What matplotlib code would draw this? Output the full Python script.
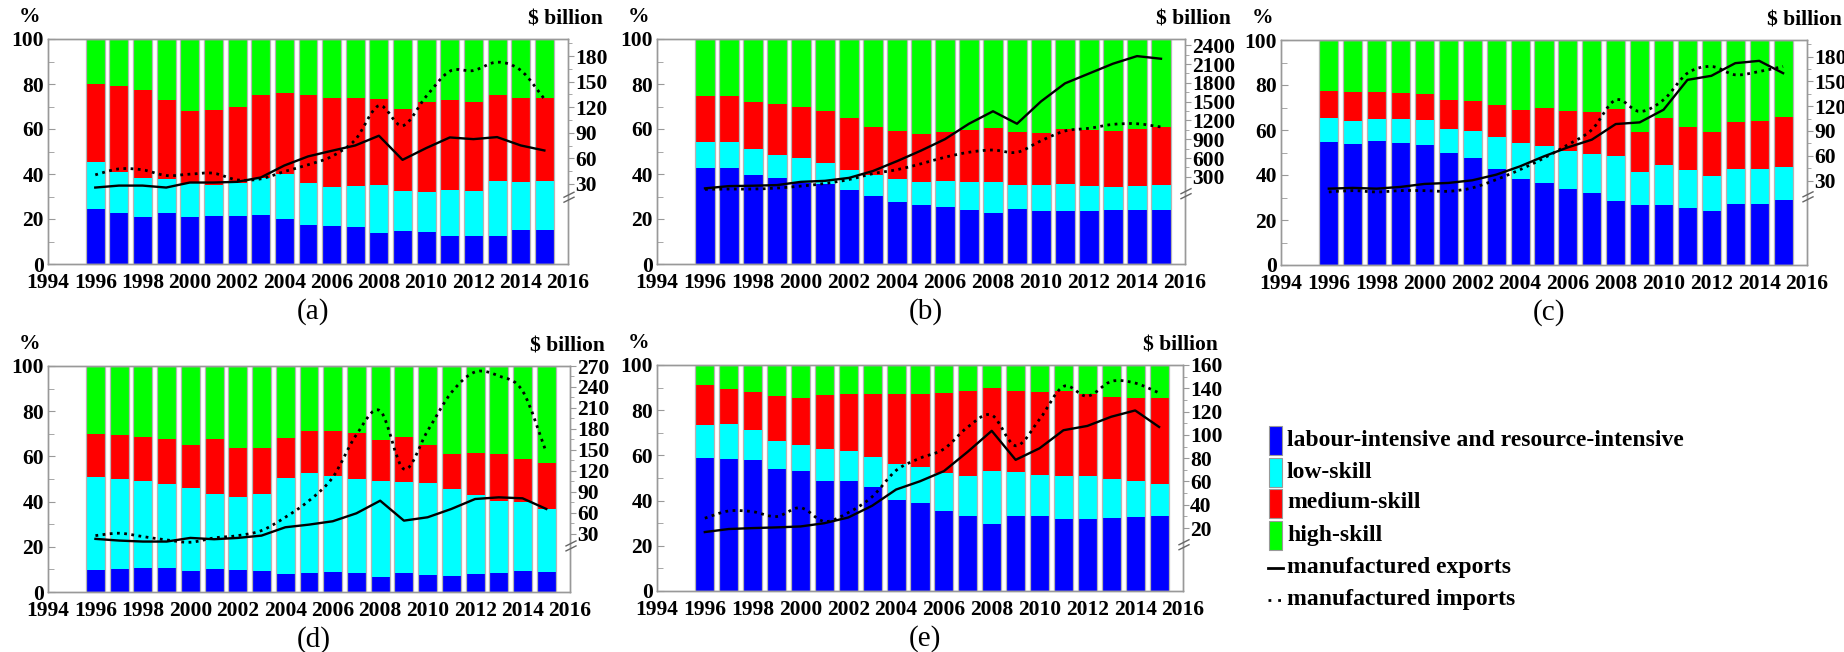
import matplotlib
matplotlib.use("Agg")
import numpy as np
import matplotlib.pyplot as plt
from matplotlib.path import Path
from matplotlib.patches import PathPatch, Rectangle
from matplotlib.ticker import MultipleLocator, FixedLocator

plt.rcParams['font.family'] = ['Liberation Serif', 'DejaVu Serif']
plt.rcParams['font.weight'] = 'bold'
plt.rcParams['font.size'] = 15

## DATA (shares in %, trade in $ billion)
YEARS = list(range(1996, 2016))
CATEGORIES = ["labour-intensive and resource-intensive", "low-skill",
              "medium-skill", "high-skill"]

A_LABOUR = [24.5, 22.7, 21.0, 22.6, 21.0, 21.5, 21.5, 22.0, 20.2, 17.5, 17.1, 16.3, 13.8, 14.6, 14.3, 12.6, 12.3, 12.6, 14.9, 14.9]
A_LOW    = [21.0, 18.2, 17.2, 15.4, 15.1, 13.6, 14.5, 16.3, 19.6, 18.6, 17.2, 18.3, 21.3, 17.8, 17.9, 20.5, 20.1, 24.2, 21.7, 21.9]
A_MEDIUM = [34.4, 38.3, 39.2, 34.8, 31.8, 33.3, 34.0, 37.0, 36.4, 39.2, 39.7, 39.1, 38.2, 36.5, 39.6, 39.8, 39.5, 38.1, 37.2, 36.8]
A_HIGH   = [20.1, 20.8, 22.6, 27.2, 32.1, 31.6, 30.0, 24.7, 23.8, 24.7, 26.0, 26.3, 26.7, 31.1, 28.2, 27.1, 28.1, 25.1, 26.2, 26.4]
A_EXPORTS = [25.7, 28, 28, 25.7, 31.6, 31.6, 32.4, 37.5, 51.6, 62.2, 68.8, 75.1, 86.5, 58.2, 72, 84.5, 82.5, 84.9, 75.1, 69.2]
A_IMPORTS = [40.6, 47.6, 46.5, 39.8, 41.4, 42.5, 34.7, 35.9, 44.5, 52.4, 62.2, 81.8, 121.8, 98.2, 132.7, 162.2, 163, 172.8, 163.3, 129.6]

B_LABOUR = [42.6, 42.6, 39.7, 38.1, 36.1, 35.4, 32.8, 30.3, 27.4, 26.2, 25.5, 24.0, 22.6, 24.5, 23.6, 23.7, 23.6, 24.0, 23.9, 23.9]
B_LOW    = [11.5, 11.5, 11.2, 10.4, 10.8, 9.4, 9.0, 9.2, 10.2, 10.2, 11.2, 12.4, 13.8, 10.4, 11.3, 12.0, 11.0, 10.2, 10.7, 11.0]
B_MEDIUM = [20.4, 20.4, 21.3, 22.4, 23.0, 23.0, 23.1, 21.6, 21.3, 21.5, 22.0, 23.0, 24.2, 23.8, 23.5, 24.3, 24.9, 24.8, 25.6, 26.0]
B_HIGH   = [25.5, 25.5, 27.8, 29.1, 30.1, 32.2, 35.1, 38.9, 41.1, 42.1, 41.3, 40.6, 39.4, 41.3, 41.6, 40.0, 40.5, 41.0, 39.8, 39.1]
B_EXPORTS = [117, 153, 159, 169, 221, 237, 284, 394, 551, 719, 902, 1148, 1347, 1148, 1504, 1792, 1949, 2106, 2227, 2185]
B_IMPORTS = [101, 106, 106, 122, 153, 195, 258, 352, 415, 509, 614, 693, 729, 693, 876, 1033, 1075, 1138, 1148, 1096]

C_LABOUR = [54.7, 53.6, 54.9, 54.1, 53.2, 49.8, 47.4, 42.8, 38.4, 36.6, 34.0, 31.9, 28.4, 26.6, 26.6, 25.3, 23.9, 27.0, 27.2, 29.1]
C_LOW    = [10.6, 10.5, 9.9, 10.9, 11.3, 10.8, 12.3, 14.1, 15.8, 16.4, 16.5, 17.6, 20.2, 14.8, 17.9, 17.1, 15.5, 15.5, 15.6, 14.3]
C_MEDIUM = [12.2, 12.6, 11.9, 11.4, 11.4, 12.8, 13.0, 14.4, 14.6, 17.0, 18.0, 18.7, 20.8, 17.8, 20.9, 18.9, 19.7, 21.0, 21.2, 22.2]
C_HIGH   = [22.5, 23.3, 23.3, 23.6, 24.1, 26.6, 27.3, 28.7, 31.2, 30.0, 31.5, 31.8, 30.6, 40.8, 34.6, 38.7, 40.9, 36.5, 36.0, 34.4]
C_EXPORTS = [20.3, 21.2, 20.3, 22.4, 26, 27.2, 30.4, 37.2, 47.3, 59.4, 70.2, 79.5, 98.4, 100.4, 115.7, 151.8, 156.7, 172, 174.8, 159.9]
C_IMPORTS = [16.3, 17.9, 16.3, 17.9, 17.9, 17.1, 21.2, 31.2, 43.3, 57.3, 73.4, 91.5, 127.7, 113.6, 127.7, 159.9, 168, 157.9, 161.9, 168]

D_LABOUR = [9.9, 10.3, 10.7, 10.7, 9.3, 10.3, 9.6, 9.1, 8.1, 8.5, 8.8, 8.5, 6.5, 8.5, 7.4, 7.2, 7.8, 8.5, 9.3, 8.8]
D_LOW    = [41.1, 39.7, 38.6, 37.1, 36.7, 33.1, 32.6, 34.4, 42.3, 44.1, 42.4, 41.6, 42.8, 40.0, 40.8, 38.5, 35.3, 31.9, 30.6, 28.0]
D_MEDIUM = [18.9, 19.4, 19.4, 20.1, 19.1, 24.5, 21.6, 20.0, 17.7, 18.6, 20.1, 20.3, 18.1, 20.0, 16.8, 15.5, 18.5, 20.8, 19.1, 20.3]
D_HIGH   = [30.1, 30.6, 31.3, 32.1, 34.9, 32.1, 36.2, 36.5, 31.9, 28.8, 28.7, 29.6, 32.6, 31.5, 35.0, 38.8, 38.4, 38.8, 41.0, 42.9]
D_EXPORTS = [22.9, 20.5, 19.1, 19.1, 24.3, 22.4, 24.3, 27.6, 39.5, 43.3, 48.1, 59.5, 77.5, 49, 53.8, 65.7, 79.9, 82.3, 80.9, 65.7]
D_IMPORTS = [27.6, 31, 26.2, 21.4, 18.1, 24.3, 27.6, 34.8, 53.8, 77.5, 110.8, 172, 205.9, 122.7, 177.4, 232, 261.5, 255.8, 234.4, 146.5]

E_LABOUR = [58.8, 58.4, 58.1, 54.0, 53.0, 48.6, 48.5, 46.0, 40.1, 39.0, 35.3, 33.3, 29.5, 33.3, 33.1, 31.7, 31.8, 32.4, 32.8, 33.1]
E_LOW    = [14.6, 15.3, 13.1, 12.4, 11.7, 14.2, 13.5, 13.1, 16.1, 15.7, 17.0, 17.6, 23.8, 19.3, 18.3, 19.1, 18.9, 17.1, 16.0, 14.3]
E_MEDIUM = [17.7, 15.9, 17.0, 19.7, 20.6, 23.8, 25.3, 27.9, 30.8, 32.5, 35.1, 37.7, 36.6, 36.0, 36.6, 37.5, 36.5, 36.5, 36.6, 37.9]
E_HIGH   = [8.9, 10.4, 11.8, 13.9, 14.7, 13.4, 12.7, 13.0, 13.0, 12.8, 12.6, 11.4, 10.1, 11.4, 12.0, 11.7, 12.8, 14.0, 14.6, 14.7]
E_EXPORTS = [16.6, 19.2, 20, 20.6, 21.4, 24.2, 29.1, 39.2, 53.1, 60.2, 68.9, 85.6, 103.5, 78.6, 88.5, 104, 107.7, 115.6, 121, 106.8]
E_IMPORTS = [28.5, 34.7, 34.1, 29.9, 37.5, 25.7, 33.3, 46.9, 69.5, 80, 87.9, 106.8, 117, 90.7, 113.4, 141.6, 133.2, 145.9, 144.5, 136]

## STYLE
W, H = 1844, 652
COLORS = ["#0000ff", "#00ffff", "#ff0000", "#00ff00"]
FRAME = "#999999"
TICK_SIZE = 15.5
LEGEND_SIZE = 17

# panel: (label, shares, exports, imports, pixel box l,r,t,b, right ylim, major step, break value)
PANELS = [
    ("(a)", [A_LABOUR, A_LOW, A_MEDIUM, A_HIGH], A_EXPORTS, A_IMPORTS, (48, 568, 39, 264), (-64, 200), 30, 12),
    ("(b)", [B_LABOUR, B_LOW, B_MEDIUM, B_HIGH], B_EXPORTS, B_IMPORTS, (657, 1185, 39, 264), (-1090, 2500), 300, 0),
    ("(c)", [C_LABOUR, C_LOW, C_MEDIUM, C_HIGH], C_EXPORTS, C_IMPORTS, (1281, 1807, 40, 265), (-72, 200), 30, 8),
    ("(d)", [D_LABOUR, D_LOW, D_MEDIUM, D_HIGH], D_EXPORTS, D_IMPORTS, (48, 570, 366, 592), (-53, 270), 30, 10),
    ("(e)", [E_LABOUR, E_LOW, E_MEDIUM, E_HIGH], E_EXPORTS, E_IMPORTS, (657, 1183, 365, 591), (-34, 160), 20, 4),
]


def smooth_path(x, y):
    # Catmull-Rom through the points, drawn as cubic Bezier segments
    pts = np.column_stack([x, y]).astype(float)
    p = np.vstack([pts[0], pts, pts[-1]])
    verts = [pts[0]]
    codes = [Path.MOVETO]
    for i in range(1, len(p) - 2):
        c1 = p[i] + (p[i + 1] - p[i - 1]) / 6.0
        c2 = p[i + 1] - (p[i + 2] - p[i]) / 6.0
        verts += [c1, c2, p[i + 1]]
        codes += [Path.CURVE4] * 3
    return Path(verts, codes)


fig = plt.figure(figsize=(W / 100, H / 100), dpi=100)
fig.set_facecolor("white")

for label, shares, exports, imports, box, rlim, step, brk in PANELS:
    l, r, t, b = box
    ax = fig.add_axes([l / W, 1 - b / H, (r - l) / W, (b - t) / H])
    bottom = np.zeros(len(YEARS))
    for vals, col in zip(shares, COLORS):
        ax.bar(YEARS, vals, bottom=bottom, width=0.8, color=col, linewidth=0, zorder=2)
        bottom = bottom + np.array(vals)
    ax.bar(YEARS, bottom, width=0.8, facecolor="none", edgecolor="#b5b5b5", linewidth=0.9, zorder=3)

    ax.set_xlim(1994, 2016)
    ax.set_ylim(0, 100)
    ax.set_xticks(range(1994, 2017, 2))
    ax.yaxis.set_major_locator(MultipleLocator(20))
    ax.yaxis.set_minor_locator(MultipleLocator(10))
    ax.tick_params(axis="x", length=0, pad=6.5, labelsize=TICK_SIZE)
    ax.tick_params(axis="y", which="both", direction="in", color=FRAME, pad=3, labelsize=TICK_SIZE)
    ax.tick_params(axis="y", which="major", length=5)
    ax.tick_params(axis="y", which="minor", length=4)
    for sp in ax.spines.values():
        sp.set_color(FRAME)
        sp.set_linewidth(1.0)

    ax2 = ax.twinx()
    ax2.set_ylim(*rlim)
    ax2.yaxis.set_major_locator(FixedLocator(np.arange(step, rlim[1] + 1, step)))
    ax2.yaxis.set_minor_locator(FixedLocator(np.arange(step * 1.5, rlim[1], step)))
    ax2.tick_params(axis="y", which="both", direction="out", color=FRAME, pad=1, labelsize=TICK_SIZE)
    ax2.tick_params(axis="y", which="major", length=4)
    ax2.tick_params(axis="y", which="minor", length=3)
    for sp in ax2.spines.values():
        sp.set_color(FRAME)
        sp.set_linewidth(1.0)

    ax2.plot(YEARS, exports, color="black", linewidth=1.7, zorder=5)
    ax2.add_patch(PathPatch(smooth_path(YEARS, imports), fill=False, edgecolor="black",
                            linewidth=2.0, linestyle=(0, (1, 1.6)), zorder=5))

    # axis break mark on the right axis
    yb = (brk - rlim[0]) / (rlim[1] - rlim[0])
    ph = b - t
    pw = r - l
    for off in (0, 5):
        ax2.plot([1 - 4 / pw, 1 + 6 / pw], [yb + (off - 3) / ph, yb + (off + 2) / ph],
                 transform=ax2.transAxes, color="#666666", linewidth=1.0, clip_on=False, zorder=6)

    ax.annotate("%", xy=(0, 1), xycoords="axes fraction", xytext=(-13, 16),
                textcoords="offset points", ha="center", va="center", fontsize=TICK_SIZE)
    dx = 33 if step >= 300 else 25
    ax.annotate("$ billion", xy=(1, 1), xycoords="axes fraction", xytext=(dx, 14),
                textcoords="offset points", ha="right", va="center", fontsize=TICK_SIZE)
    ax.annotate(label, xy=(0.51, 0), xycoords="axes fraction", xytext=(0, -34),
                textcoords="offset points", ha="center", va="center",
                fontsize=21, fontweight="normal")

## LEGEND
lax = fig.add_axes([1260 / W, 0, (W - 1260) / W, 1])
lax.set_xlim(1260, W)
lax.set_ylim(H, 0)
lax.axis("off")
rows_y = [440, 472, 503, 535, 568, 600]
for name, col, yc in zip(CATEGORIES, COLORS, rows_y[:4]):
    lax.add_patch(Rectangle((1269, yc - 14.5), 13, 29, facecolor=col, edgecolor="#999999", linewidth=0.8))
    lax.text(1287, yc, name, ha="left", va="center", fontsize=LEGEND_SIZE)
lax.plot([1268, 1283], [rows_y[4], rows_y[4]], color="black", linewidth=2.0)
lax.text(1287, rows_y[4], "manufactured exports", ha="left", va="center", fontsize=LEGEND_SIZE)
lax.plot([1268, 1283], [rows_y[5], rows_y[5]], color="black", linewidth=2.0, linestyle=(0, (1, 2.5)))
lax.text(1287, rows_y[5], "manufactured imports", ha="left", va="center", fontsize=LEGEND_SIZE)

plt.savefig("out.png", dpi=100, facecolor="white")
